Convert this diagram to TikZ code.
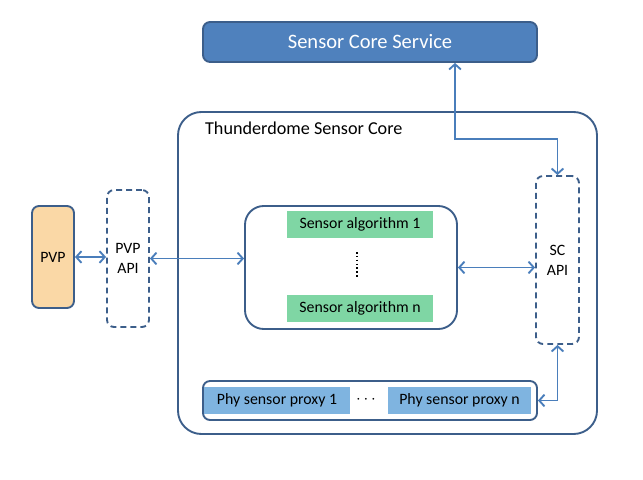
\documentclass[tikz,border=0pt]{standalone}
\usepackage{fontspec}
\setmainfont{Carlito}
\usetikzlibrary{arrows.meta}

\definecolor{edgeblue}{RGB}{60,94,138}
\definecolor{linkblue}{RGB}{74,126,187}
\definecolor{serviceblue}{RGB}{79,129,189}
\definecolor{pvppeach}{RGB}{250,216,166}
\definecolor{alggreen}{RGB}{127,214,164}
\definecolor{proxyblue}{RGB}{127,180,224}

\tikzstyle{box} = [draw=edgeblue, line width=1.6pt, rounded corners=6pt, inner sep=0pt, align=center]
\tikzstyle{api} = [box, dashed, dash pattern=on 5pt off 3.5pt]
\tikzstyle{item} = [fill=#1, inner sep=0pt, minimum height=0.81cm]
\tikzstyle{link} = [draw=linkblue, line width=1.6pt, {Straight Barb[length=4.5pt,width=10pt]}-{Straight Barb[length=4.5pt,width=10pt]}]

\begin{document}
\begin{tikzpicture}[x=0.03cm, y=-0.03cm, font=\fontsize{13.5}{16}\selectfont]
\useasboundingbox (0,0) rectangle (643,480);
% service on top
\node[box, fill=serviceblue, text=white, minimum width=10.02cm, minimum height=1.2cm, font=\fontsize{17.5}{20}\selectfont] (scs) at (370,42) {Sensor Core Service};
% the core
\node[box, rounded corners=20pt, minimum width=12.57cm, minimum height=9.66cm] (core) at (387.5,273) {};
\node[right] (corelabel) at (201,128) {\fontsize{15.5}{18}\selectfont Thunderdome Sensor Core};
% left side
\node[box, fill=pvppeach, minimum width=1.26cm, minimum height=3.06cm] (pvp) at (53,257) {PVP};
\node[api, minimum width=1.26cm, minimum height=4.11cm] (pvpapi) at (128,258.5) {PVP\\[1pt]API};
\node[api, minimum width=1.29cm, minimum height=5.04cm] (scapi) at (557.5,260) {SC\\[1pt]API};
% algorithms
\node[box, rounded corners=16pt, minimum width=6.36cm, minimum height=3.69cm] (algbox) at (351,267.5) {};
\node[item=alggreen, minimum width=4.38cm] (alg1) at (360,224.5) {Sensor\ algorithm\ 1};
\node[item=alggreen, minimum width=4.38cm] (algn) at (360,308.5) {Sensor\ algorithm\ n};
\coordinate (dtop) at (357,252);
\coordinate (dbot) at (357,279);
\draw[dotted, line width=1.3pt] (dtop) -- (dbot);
% proxies
\node[box, minimum width=10.02cm, minimum height=1.17cm] (proxybox) at (370,400.5) {};
\node[item=proxyblue, minimum width=4.38cm] (proxy1) at (277,400.5) {Phy\ sensor\ proxy\ 1};
\node (dots) at (366,400) {\bfseries$\cdots$};
\node[item=proxyblue, minimum width=4.29cm] (proxyn) at (459.5,400.5) {Phy\ sensor\ proxy\ n};
% links
\draw[link] (pvp.east) -- (pvp.east -| pvpapi.west);
\draw[link] (pvpapi.east) -- (pvpapi.east -| algbox.west);
\draw[link] (algbox.east) -- (algbox.east -| scapi.west);
\draw[link] ([xshift=2.55cm]scs.south) -- ++(0,76) -| (scapi.north);
\draw[link] (scapi.south) |- (proxybox.east);
\end{tikzpicture}
\end{document}
